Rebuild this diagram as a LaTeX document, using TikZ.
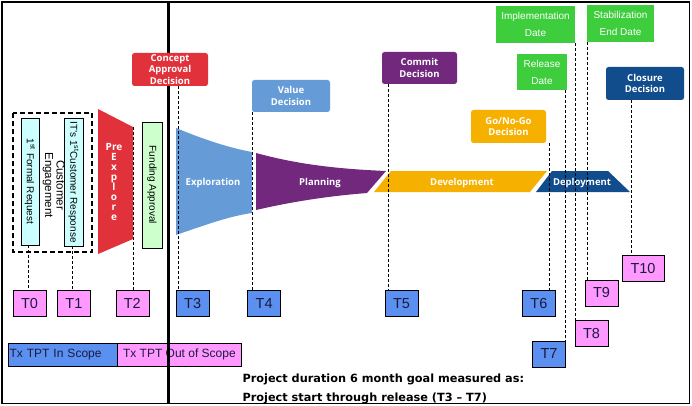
\documentclass[tikz,border=0pt]{standalone}
\usepackage{fontspec}
\setmainfont{Liberation Sans}
\newfontfamily\decfont{Open Sans}
\newfontfamily\notefont{DejaVu Sans}
\usetikzlibrary{positioning}

\definecolor{cred}{HTML}{E1323C}
\definecolor{cblue}{HTML}{659CD8}
\definecolor{cpurple}{HTML}{71287D}
\definecolor{corange}{HTML}{F6B100}
\definecolor{cnavy}{HTML}{114C8C}
\definecolor{cgreen}{HTML}{3DCD3D}
\definecolor{tblue}{HTML}{5B8FF0}
\definecolor{tpink}{HTML}{FF99FF}
\definecolor{tcyan}{HTML}{CCFFFF}
\definecolor{tmint}{HTML}{CCFFCC}
\definecolor{ttext}{HTML}{1A1A40}

\tikzset{
  decision/.style={fill=#1, text=white, rounded corners=2.5pt, inner sep=0pt,
    align=center, font=\decfont\bfseries\fontsize{9.5}{11.5}\selectfont},
  datebox/.style={fill=cgreen, text=white, inner sep=0pt, align=center,
    font=\fontsize{10}{17}\selectfont},
  tbox/.style={draw, fill=#1, text=ttext, inner sep=0pt, minimum width=33pt,
    minimum height=26pt, font=\fontsize{14.5}{16}\selectfont},
  sidebox/.style={draw, fill=#1, inner sep=0pt, font=\fontsize{10}{12}\selectfont},
  phase/.style={text=white, font=\decfont\bfseries\fontsize{9.5}{10}\selectfont},
  guide/.style={dash pattern=on 3pt off 2pt, line width=0.7pt},
  legend/.style={draw, fill=#1, text=ttext, inner sep=1.5pt, minimum height=23pt,
    font=\fontsize{12}{14}\selectfont}
}

\begin{document}
\begin{tikzpicture}[x=1pt,y=-1pt]
  \useasboundingbox (0,0) rectangle (692,406);

  % request boxes
  \draw[line width=1.6pt, dash pattern=on 5pt off 3pt] (13,113) rectangle (92,252);
  \node[sidebox=tcyan, minimum width=18pt, minimum height=127pt] (req) at (30,181.5)
    {\rotatebox{-90}{1\textsuperscript{st} Formal Request}};
  \node[sidebox=tcyan, minimum width=19pt, minimum height=128pt] (resp) at (73.5,182)
    {\rotatebox{-90}{IT's 1\textsuperscript{st}Customer Response}};
  \node[align=center, font=\fontsize{11.5}{13}\selectfont] (eng) at (53.5,185)
    {\rotatebox{-90}{\begin{tabular}{@{}c@{}}Customer\\[-1.5pt]Engagement\end{tabular}}};

  % pre explore
  \fill[cred] (98,109) -- (133,127) -- (133,239) -- (98,254) -- cycle;
  \node[text=white, align=center, font=\decfont\bfseries\fontsize{10}{10}\selectfont] (pre) at (114,182)
    {Pre\\E\\x\\p\\l\\o\\r\\e};
  \node[sidebox=tmint, minimum width=20pt, minimum height=126pt] (fund) at (152,185)
    {\rotatebox{-90}{Funding Approval}};

  % phases
  \fill[cblue] (176,128) .. controls (205,140) and (230,148) .. (252,152)
    -- (252,213) .. controls (230,216) and (205,225) .. (176,235) -- cycle;
  \fill[cpurple] (256,153) .. controls (300,165) and (340,169) .. (386,171)
    -- (367,193) .. controls (330,196) and (295,201) .. (256,210) -- cycle;
  \fill[corange] (391,171) -- (547,171) -- (530,192) -- (374,192) -- cycle;
  \fill[cnavy] (552,171) -- (608,171) -- (630,192) -- (536,192) -- cycle;
  \node[phase] (expl) at (213,183) {Exploration};
  \node[phase] (plan) at (320,183) {Planning};
  \node[phase] (dev)  at (462,183) {Development};
  \node[phase] (dep)  at (582,183) {Deployment};

  % legend
  \node[legend=tblue, text width=106pt, align=left] (lin) at (62.5,354.5) {Tx TPT In Scope};
  \node[legend=tpink, minimum width=124pt, right=0pt of lin] (lout) {Tx TPT Out of Scope};

  \draw[line width=3pt] (168.5,2) -- (168.5,403);
  \draw[line width=1.2pt] (2,2) rectangle (689.5,403.5);

  % decisions and dates
  \node[decision=cred, minimum width=76pt, minimum height=33pt] (cad) at (170,69.5)
    {Concept\\Approval\\Decision};
  \node[decision=cblue, minimum width=78pt, minimum height=32pt] (vd) at (291,96)
    {Value\\Decision};
  \node[decision=cpurple, minimum width=75pt, minimum height=32pt] (cd) at (419.5,68)
    {Commit\\Decision};
  \node[decision=corange, minimum width=75pt, minimum height=33pt] (gng) at (508.5,126.5)
    {Go/No-Go\\Decision};
  \node[decision=cnavy, minimum width=78pt, minimum height=33pt] (clo) at (645,83.5)
    {Closure\\Decision};
  \node[datebox, minimum width=50pt, minimum height=36pt] (rel) at (542,72)
    {Release\\Date};
  \node[datebox, minimum width=79pt, minimum height=37pt] (impl) at (535.5,24.5)
    {Implementation\\Date};
  \node[datebox, minimum width=67pt, minimum height=37pt] (stab) at (620.5,23.5)
    {Stabilization\\End Date};

  % milestones
  \node[tbox=tpink] (t0) at (29.5,303.5) {T0};
  \node[tbox=tpink, right=11pt of t0] (t1) {T1};
  \node[tbox=tpink, right=25pt of t1] (t2) {T2};
  \node[tbox=tblue, right=27pt of t2] (t3) {T3};
  \node[tbox=tblue, right=38pt of t3] (t4) {T4};
  \node[tbox=tblue, right=104pt of t4] (t5) {T5};
  \node[tbox=tblue, right=104pt of t5] (t6) {T6};
  \node[tbox=tblue] (t7) at (549,354) {T7};
  \node[tbox=tpink] (t8) at (591.5,333.5) {T8};
  \node[tbox=tpink] (t9) at (601.5,293) {T9};
  \node[tbox=tpink, minimum width=42pt] (t10) at (643,268.5) {T10};

  \draw[guide] (28,0 |- req.south) -- (28,0 |- t0.north);
  \draw[guide] (72,0 |- resp.south) -- (72,0 |- t1.north);
  \draw[guide] (133.5,127) -- (133.5,0 |- t2.north);
  \draw[guide] (178,0 |- cad.south) -- (178,0 |- t3.north);
  \draw[guide] (252.5,0 |- vd.south) -- (252.5,0 |- t4.north);
  \draw[guide] (388,0 |- cd.south) -- (388,0 |- t5.north);
  \draw[guide] (549,0 |- gng.south) -- (549,0 |- t6.north);
  \draw[guide] (565,0 |- rel.south) -- (565,0 |- t7.north);
  \draw[guide] (575,0 |- impl.south) -- (575,0 |- t8.north);
  \draw[guide] (587,0 |- stab.south) -- (587,0 |- t9.north);
  \draw[guide] (631,0 |- clo.south) -- (631,0 |- t10.north);

  % goal note
  \node[anchor=base west, font=\notefont\bfseries\fontsize{11.3}{12}\selectfont] (goal1) at (239,382)
    {Project duration 6 month goal measured as:};
  \node[anchor=base west, font=\notefont\bfseries\fontsize{11.3}{12}\selectfont] (goal2) at (239,401)
    {Project start through release (T3 – T7)};
\end{tikzpicture}
\end{document}
